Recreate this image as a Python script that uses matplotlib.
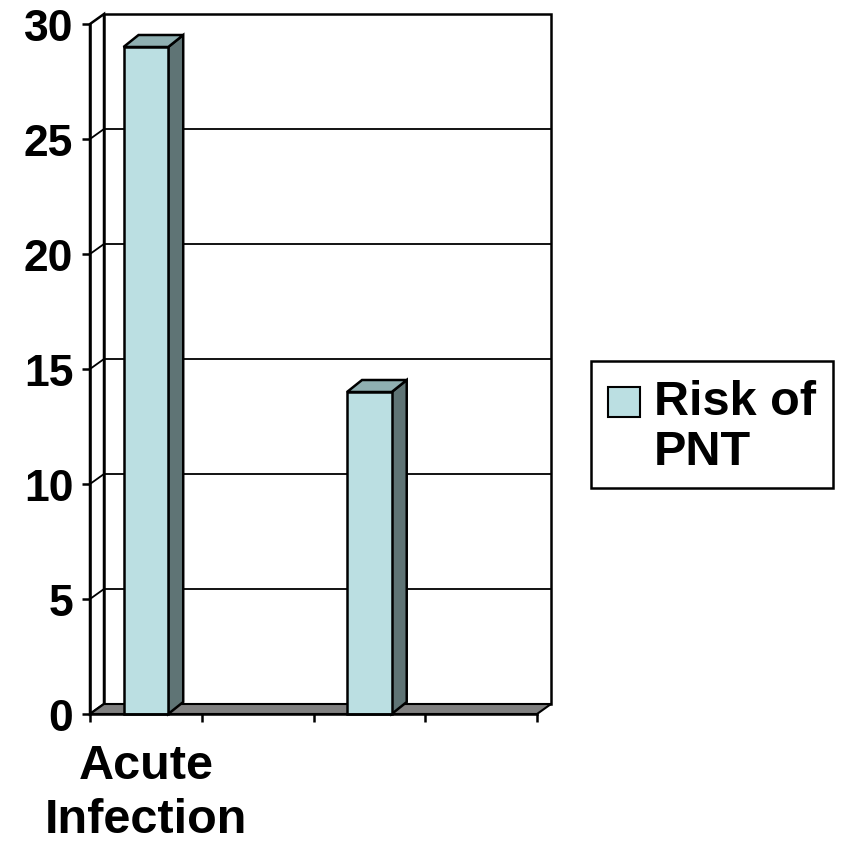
import numpy as np
import matplotlib.pyplot as plt
from matplotlib.patches import Polygon, Rectangle

# data
categories = ["Acute\nInfection", "", "", ""]
values = [29, np.nan, 14, np.nan]
series_name = "Risk of\nPNT"
y_ticks = [0, 5, 10, 15, 20, 25, 30]

FRONT = "#BBDFE2"
TOP = "#8FAFB1"
SIDE = "#5F7475"
FLOOR = "#808080"

plt.rcParams['font.family'] = ['Liberation Sans', 'DejaVu Sans']
plt.rcParams['font.weight'] = 'bold'

W, H = 841, 845
fig = plt.figure(figsize=(W / 100, H / 100), dpi=100)

# front plane of the 3D box, in pixels
x0, x1, y0, y1 = 90, 537, 715, 25
ax = fig.add_axes([x0 / W, 1 - y0 / H, (x1 - x0) / W, (y0 - y1) / H])
ax.set_xlim(0, len(categories))
ax.set_ylim(0, 30)
ax.patch.set_visible(False)

px_x = len(categories) / (x1 - x0)
px_y = 30 / (y0 - y1)
wdx, wdy = 14 * px_x, 10 * px_y   # wall depth offset
bdx, bdy = 15 * px_x, 12 * px_y   # bar depth offset
n = len(categories)

# left wall and back wall
ax.add_patch(Polygon([(0, 0), (wdx, wdy), (wdx, 30 + wdy), (0, 30)],
                     closed=True, fc="white", ec="black", lw=1.8, clip_on=False, zorder=1))
ax.add_patch(Rectangle((wdx, wdy), n, 30, fc="white", ec="black", lw=1.8,
                       clip_on=False, zorder=1))
# gridlines across left wall and back wall
for t in y_ticks[1:-1]:
    ax.plot([0, wdx, n + wdx], [t, t + wdy, t + wdy], color="black", lw=1.3,
            clip_on=False, zorder=2)

# floor
ax.add_patch(Polygon([(0, 0), (n, 0), (n + wdx, wdy), (wdx, wdy)], closed=True,
                     fc=FLOOR, ec="black", lw=1.5, clip_on=False, zorder=3))

# bars
bw = 0.40
for i, v in enumerate(values):
    if np.isnan(v):
        continue
    xl = i + 0.5 - bw / 2
    xr = xl + bw
    ax.add_patch(Polygon([(xr, 0), (xr + bdx, bdy), (xr + bdx, v + bdy), (xr, v)],
                         closed=True, fc=SIDE, ec="black", lw=1.8, clip_on=False, zorder=4))
    ax.add_patch(Polygon([(xl, v), (xr, v), (xr + bdx, v + bdy), (xl + bdx, v + bdy)],
                         closed=True, fc=TOP, ec="black", lw=1.8, clip_on=False, zorder=4))
    ax.add_patch(Rectangle((xl, 0), bw, v, fc=FRONT, ec="black", lw=1.8,
                           clip_on=False, zorder=5))

# axes
for s in ["top", "right"]:
    ax.spines[s].set_visible(False)
for s in ["left", "bottom"]:
    ax.spines[s].set_linewidth(1.8)
    ax.spines[s].set_zorder(6)
ax.set_yticks(y_ticks)
ax.set_yticklabels([str(t) for t in y_ticks], fontsize=32, fontweight="bold")
ax.tick_params(axis="y", length=6, width=1.8, pad=6)
ax.set_xticks(np.arange(n + 1))
ax.set_xticklabels([])
ax.tick_params(axis="x", which="major", length=6, width=1.8)
ax.set_xticks(np.arange(n) + 0.5, minor=True)
ax.set_xticklabels(categories, minor=True, fontsize=35, fontweight="bold",
                   linespacing=1.24)
ax.tick_params(axis="x", which="minor", length=0, pad=21)

# legend box
fig.patches.append(Rectangle((591 / W, 1 - 489 / H), 242 / W, 127 / H,
                             transform=fig.transFigure, fc="white", ec="black", lw=1.8))
fig.patches.append(Rectangle((608 / W, 1 - 418 / H), 32 / W, 30 / H,
                             transform=fig.transFigure, fc=FRONT, ec="black", lw=1.5))
fig.text(654 / W, 1 - 380 / H, series_name, fontsize=35, fontweight="bold",
         va="top", ha="left", linespacing=1.15)

fig.savefig("out.png", dpi=100)
